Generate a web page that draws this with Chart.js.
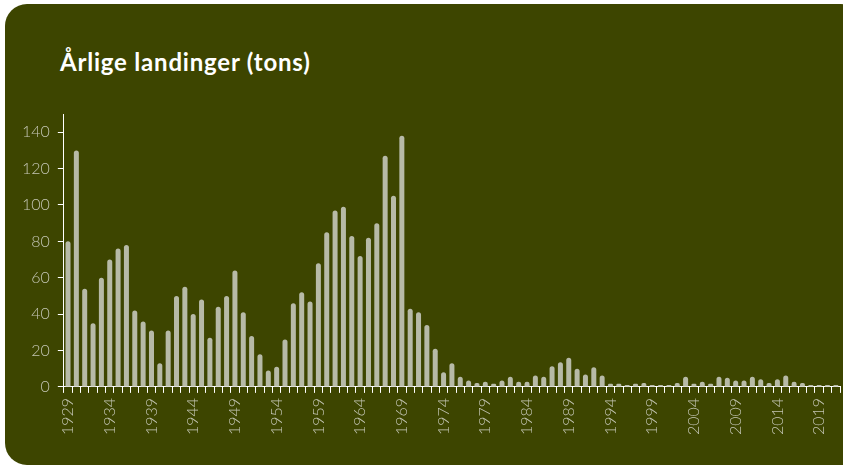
<!DOCTYPE html>
<html>
<head>
<meta charset="utf-8">
<title>Årlige landinger (tons)</title>
<script src="https://cdn.jsdelivr.net/npm/chart.js@4.4.0/dist/chart.umd.min.js"></script>
<style>
    html, body {
        margin: 0;
        padding: 0;
        background: #ffffff;
        overflow: hidden;
    }
    .card {
        position: absolute;
        left: 5px;
        top: 4px;
        width: 850px;
        height: 461px;
        background: #3d4500;
        border-radius: 22px 14px 0 22px;
    }
    .chart-title {
        position: absolute;
        left: 60px;
        top: 47px;
        color: #ffffff;
        font-family: Lato, "DejaVu Sans", sans-serif;
        font-weight: 700;
        font-size: 24px;
        letter-spacing: 0.8px;
    }
    .chart-wrap {
        position: absolute;
        left: 0;
        top: 0;
        width: 843px;
        height: 465px;
    }
</style>
</head>
<body>
<div class="card"></div>
<div class="chart-title">Årlige landinger (tons)</div>
<div class="chart-wrap"><canvas id="landingsChart"></canvas></div>

<script>
// Years 1929 - 2021
const years = [];
for (let y = 1929; y <= 2021; y++) years.push(String(y));

// Landings (tons)
const landings = [
    80, 130, 54, 35, 60, 70, 76, 78, 42, 36,        // 1929-1938
    31, 13, 31, 50, 55, 40, 48, 27, 44, 50,         // 1939-1948
    64, 41, 28, 18, 9, 11, 26, 46, 52, 47,          // 1949-1958
    68, 85, 97, 99, 83, 72, 82, 90, 127, 105,       // 1959-1968
    138, 43, 41, 34, 21, 8, 13, 5.5, 3.5, 2.2,      // 1969-1978
    2.8, 1.7, 3.5, 5.5, 2.8, 2.8, 6.3, 5.5, 11.4, 13.5, // 1979-1988
    16, 10, 6.8, 10.8, 6.3, 1.7, 1.7, 1.1, 1.7, 2.2,    // 1989-1998
    1.1, 1.1, 1.1, 2.2, 5.5, 1.7, 2.8, 1.7, 5.5, 5,     // 1999-2008
    3.5, 3.5, 5.5, 4.2, 2.2, 4.2, 6.3, 2.8, 2.2, 1.1,   // 2009-2018
    1.1, 1.1, 1.1                                       // 2019-2021
];

const yTicks = [0, 20, 40, 60, 80, 100, 120, 140];

const barColor = '#b7baa7';
const labelColor = '#c4c6b4';
const axisColor = '#ffffff';
const fontFamily = 'Lato, "DejaVu Sans", sans-serif';

new Chart(document.getElementById('landingsChart'), {
    type: 'bar',
    data: {
        labels: years,
        datasets: [{
            label: 'Landinger',
            data: landings,
            backgroundColor: barColor,
            borderWidth: 0,
            borderRadius: { topLeft: 3, topRight: 3 },
            borderSkipped: 'bottom',
            barPercentage: 0.6,
            categoryPercentage: 1.0
        }]
    },
    options: {
        responsive: true,
        maintainAspectRatio: false,
        animation: false,
        layout: {
            padding: { left: 14, right: 3, top: 114, bottom: 25 }
        },
        plugins: {
            legend: { display: false },
            tooltip: { enabled: false }
        },
        scales: {
            x: {
                afterFit: scale => {
                    // no extra room for the (empty) last label
                    scale.paddingLeft = 0;
                    scale.paddingRight = 0;
                },
                grid: {
                    display: true,
                    drawOnChartArea: false,
                    drawTicks: true,
                    tickLength: 6,
                    color: axisColor
                },
                border: { display: true, color: axisColor, width: 1 },
                ticks: {
                    autoSkip: false,
                    minRotation: 90,
                    maxRotation: 90,
                    color: labelColor,
                    padding: 5,
                    font: { family: fontFamily, size: 16, weight: 300 },
                    callback: function (value, index) {
                        return index % 5 === 0 ? years[index] : '';
                    }
                }
            },
            y: {
                min: 0,
                max: 150,
                afterBuildTicks: axis => {
                    axis.ticks = yTicks.map(v => ({ value: v }));
                },
                grid: {
                    display: true,
                    drawOnChartArea: false,
                    drawTicks: true,
                    tickLength: 6,
                    color: axisColor
                },
                border: { display: true, color: axisColor, width: 1 },
                ticks: {
                    color: labelColor,
                    padding: 8,
                    font: { family: fontFamily, size: 16, weight: 300 }
                }
            }
        }
    }
});
</script>
</body>
</html>
